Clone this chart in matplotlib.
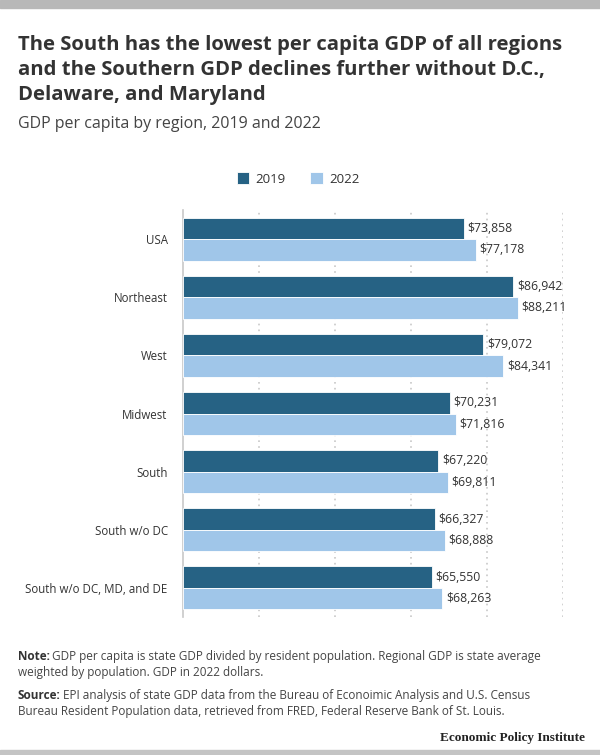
import matplotlib
matplotlib.use("Agg")
import matplotlib.pyplot as plt
import numpy as np

regions = ["USA", "Northeast", "West", "Midwest", "South", "South w/o DC",
           "South w/o DC, MD, and DE"]
gdp_2019 = [73858, 86942, 79072, 70231, 67220, 66327, 65550]
gdp_2022 = [77178, 88211, 84341, 71816, 69811, 68888, 68263]
years = ["2019", "2022"]

DARK = "#266284"
LIGHT = "#a0c6e9"
TEXT = "#333333"
NOTE = "#444444"

plt.rcParams["font.family"] = ["Open Sans", "DejaVu Sans"]

fig = plt.figure(figsize=(6.0, 7.55), dpi=100)
W, H = 600, 755

# bandes grises haut / bas
fig.patches.append(plt.Rectangle((0, 1 - 8 / H), 1, 8 / H, transform=fig.transFigure,
                                 color="#b8b8b8", zorder=0))
fig.patches.append(plt.Rectangle((0, 0), 1, 5 / H, transform=fig.transFigure,
                                 color="#c4c4c4", zorder=0))

title = ("The South has the lowest per capita GDP of all regions\n"
         "and the Southern GDP declines further without D.C.,\n"
         "Delaware, and Maryland")
fig.text(18 / W, 1 - 35 / H, title, fontsize=14.6, fontweight="bold", color=TEXT,
         va="top", ha="left", linespacing=1.33)
fig.text(18 / W, 1 - 124 / H, "GDP per capita by region, 2019 and 2022", fontsize=11.5,
         color=NOTE, va="center", ha="left")

ax = fig.add_axes([183 / W, 1 - 617 / H, (563 - 183) / W, (617 - 210) / H])
y = np.arange(len(regions))
h = 0.37
ax.barh(y - h / 2, gdp_2019, height=h, color=DARK, edgecolor="white", linewidth=0.6,
        label=years[0], zorder=3)
ax.barh(y + h / 2, gdp_2022, height=h, color=LIGHT, edgecolor="white", linewidth=0.6,
        label=years[1], zorder=3)
for yi, v in zip(y, gdp_2019):
    ax.text(v + 900, yi - h / 2, f"${v:,}", va="center", ha="left", fontsize=8.8, color=TEXT)
for yi, v in zip(y, gdp_2022):
    ax.text(v + 900, yi + h / 2, f"${v:,}", va="center", ha="left", fontsize=8.8, color=TEXT)

ax.set_xlim(0, 100000)
ax.set_ylim(len(regions) - 0.5, -0.5)
ax.set_xticks([20000, 40000, 60000, 80000, 100000])
ax.xaxis.grid(True, linestyle=(0, (1, 2.5)), color="#c8c8c8", linewidth=1.2, zorder=0)
ax.tick_params(axis="x", length=0, labelbottom=False)
ax.set_yticks(y)
ax.set_yticklabels(regions, fontsize=8.3, color=TEXT)
ax.tick_params(axis="y", length=0, pad=11)
for s in ("top", "right", "bottom"):
    ax.spines[s].set_visible(False)
ax.spines["left"].set_color("#c8c8c8")
ax.spines["left"].set_linewidth(1.2)

leg = fig.legend(loc="center", bbox_to_anchor=(298 / W, 1 - 179 / H), ncol=2, frameon=False,
                 fontsize=9.5, handlelength=0.95, handleheight=0.95, columnspacing=1.9,
                 handletextpad=0.45)
for t in leg.get_texts():
    t.set_color(TEXT)


def note_line(ypix, bold, rest):
    lab = fig.text(18 / W, 1 - ypix / H, bold, fontsize=8.5, fontweight="bold",
                   color=TEXT, va="baseline", ha="left")
    ax.annotate(rest, xy=(1, 0), xycoords=lab, xytext=(1.5, 0), textcoords="offset points",
                fontsize=8.5, color=NOTE, va="bottom", ha="left", annotation_clip=False)


note_line(660, "Note:", "GDP per capita is state GDP divided by resident population. "
          "Regional GDP is state average")
fig.text(18 / W, 1 - 676 / H, "weighted by population. GDP in 2022 dollars.", fontsize=8.5,
         color=NOTE, va="baseline", ha="left")
note_line(699, "Source:", "EPI analysis of state GDP data from the Bureau of Econoimic "
          "Analysis and U.S. Census")
fig.text(18 / W, 1 - 715 / H, "Bureau Resident Population data, retrieved from FRED, "
         "Federal Reserve Bank of St. Louis.", fontsize=8.5, color=NOTE,
         va="baseline", ha="left")
fig.text(585 / W, 1 - 738 / H, "Economic Policy Institute", fontsize=9.5, fontweight="bold",
         family=["Liberation Serif", "DejaVu Serif"], color="#222222", va="center", ha="right")

fig.savefig("out.png", dpi=100, facecolor="white")
